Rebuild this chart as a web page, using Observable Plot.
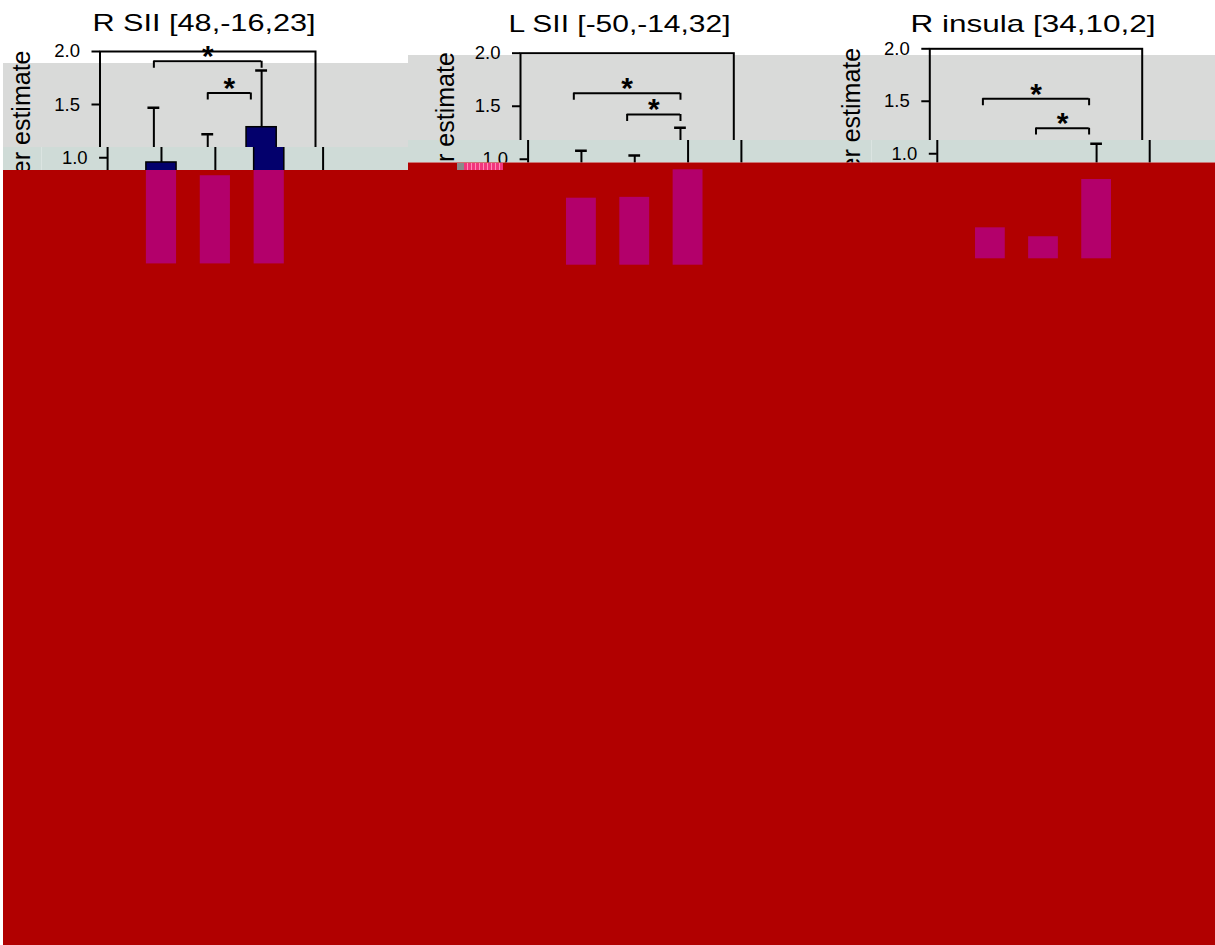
<!DOCTYPE html>
<html>
<head>
<meta charset="utf-8">
<script src="https://cdn.jsdelivr.net/npm/d3@7"></script>
<script src="https://cdn.jsdelivr.net/npm/@observablehq/plot@0.6"></script>
<style>
html, body { margin: 0; padding: 0; background: #fff; }
#chart { position: relative; width: 1215px; height: 945px; overflow: hidden; background: #fff; }
.layer { position: absolute; top: 0; height: 945px; overflow: hidden; }
.layer svg { position: absolute; left: 0; top: 0; max-width: none !important; background: none !important; overflow: visible; }
.layer svg [aria-label^="y-axis"] line, .layer svg [aria-label^="y-axis"] path { stroke-width: 2px; }
.glitch { position: absolute; }
</style>
</head>
<body>
<div id="chart"></div>
<script>
// ---------------- data ----------------
const regions = ["R SII [48,-16,23]", "L SII [-50,-14,32]", "R insula [34,10,2]"];
const conditions = ["1", "2", "3"];
const means = [
  [0.955, 0.83, 1.287],
  [0.632, 0.64, 0.90],
  [0.295, 0.21, 0.755]
];
const errors = [
  [0.515, 0.39, 0.533],
  [0.448, 0.395, 0.396],
  [0.26, 0.22, 0.34]
];
const bracketFrom = [[1, 2], [1, 2], [1, 2]];
const bracketTo = [[3, 2.8], [3, 3], [3, 3]];
const bracketLevel = [[1.908, 1.61], [1.623, 1.422], [1.524, 1.244]];
const yTicks = [0, 0.5, 1, 1.5, 2];
const yLabel = "Parameter estimate";
const marker = "*";

// ---------------- styles / layout ----------------
const W = 1215, H = 945;
const FONT = "'Liberation Sans', Arial, Helvetica, sans-serif";
const NAVY = "#03006c", RED = "#b10000", MAGENTA = "#b3006b", GRAY = "#d9dad9", GREEN = "#cfdbd7";
const layout = [
  {left: 0, width: 408, axis: 99.5, right: 315, top: 51, zero: 263.4, shift: 7.6, bands: [63, 147, 170], edge: 3, labelX: 29.5, titleX: 203.5, titleBase: 30, titleWidth: 223},
  {left: 408, width: 392, axis: 520, right: 733.3, top: 52.7, zero: 264.7, shift: 7.6, bands: [55, 140, 162.5], edge: 0, labelX: 453, titleX: 619, titleBase: 31.5, titleWidth: 222},
  {left: 800, width: 415, axis: 929.3, right: 1141.7, top: 48.3, zero: 258.3, shift: 7.5, bands: [55, 140, 162.5], edge: 0, labelX: 859.5, titleX: 1032.5, titleBase: 31.5, titleWidth: 245}
];
const half = 0.28, capHalf = 0.11, drop = 0.066;
const tickFormat = d3.format(".1f");

function renderPanel(p, mode) {
  const L = layout[p];
  const shift = mode === "gray" ? 0 : L.shift;
  const axisX = L.axis + shift - L.left;
  const rightX = L.right + shift - L.left;
  const rows = conditions.map((c, j) => ({condition: c, pos: j + 1, mean: means[p][j], upper: means[p][j] + errors[p][j]}));
  const brackets = bracketLevel[p].map((level, k) => ({from: bracketFrom[p][k], to: bracketTo[p][k], level}));
  const ends = brackets.flatMap(b => [{x: b.from, level: b.level}, {x: b.to, level: b.level}]);
  let marks;
  if (mode === "bars") {
    marks = [
      Plot.rect(rows, {x1: d => d.pos - half, x2: d => d.pos + half, y1: 0, y2: "mean", fill: MAGENTA})
    ];
  } else {
    const frameCenter = (L.axis + L.right) / 2 + shift;
    marks = [
      Plot.frame({stroke: "black", strokeWidth: 2}),
      Plot.rect(rows, {x1: d => d.pos - half, x2: d => d.pos + half, y1: 0, y2: "mean", fill: NAVY, stroke: "black", strokeWidth: 1.5}),
      Plot.ruleX(rows, {x: "pos", y1: "mean", y2: "upper", stroke: "black", strokeWidth: 2}),
      Plot.ruleY(rows, {y: "upper", x1: d => d.pos - capHalf, x2: d => d.pos + capHalf, stroke: "black", strokeWidth: 2.5}),
      Plot.ruleY(brackets, {y: "level", x1: "from", x2: "to", stroke: "black", strokeWidth: 2}),
      Plot.ruleX(ends, {x: "x", y1: "level", y2: d => d.level - drop, stroke: "black", strokeWidth: 2}),
      Plot.text(brackets, {x: d => (d.from + d.to) / 2, y: "level", text: () => marker, fontSize: 30, fontWeight: "bold", lineAnchor: "bottom", dy: 5}),
      Plot.text([regions[p]], {frameAnchor: "top", text: d => d, fontSize: 24, lineAnchor: "bottom", dx: L.titleX - frameCenter, dy: L.titleBase - L.top}),
      Plot.text([yLabel], {frameAnchor: "left", y: () => 2, text: d => d, rotate: -90, textAnchor: "end", lineAnchor: "bottom", fontSize: 25, dx: L.labelX - (L.axis + shift), dy: -1})
    ];
  }
  const svg = Plot.plot({
    width: L.width,
    height: H,
    marginLeft: axisX,
    marginRight: L.width - rightX,
    marginTop: L.top,
    marginBottom: H - L.zero,
    x: {domain: [0, 4], axis: null},
    y: {domain: [0, 2], ticks: yTicks, tickFormat, tickSize: 8, tickPadding: 12, label: null, axis: mode === "bars" ? null : "left"},
    style: {background: "none", fontFamily: FONT, fontSize: "18px", overflow: "visible", maxWidth: "none", color: "black"},
    marks
  });
  const tickLabels = new Set(yTicks.map(tickFormat));
  svg.querySelectorAll("text").forEach(t => {
    const s = t.textContent;
    if (s === regions[p]) {
      t.setAttribute("textLength", L.titleWidth);
      t.setAttribute("lengthAdjust", "spacingAndGlyphs");
    } else if (tickLabels.has(s)) {
      t.style.fontSize = "18.5px";
    }
  });
  return svg;
}

const root = document.getElementById("chart");
function addLayer(p, svg, clip, background) {
  const L = layout[p];
  const div = document.createElement("div");
  div.className = "layer";
  div.style.left = L.left + "px";
  div.style.width = L.width + "px";
  Object.assign(div.style, background);
  div.style.clipPath = clip;
  div.appendChild(svg);
  root.appendChild(div);
}

layout.forEach((L, p) => {
  const [g, gr, r] = L.bands;
  const labelCol = L.labelX - L.left + 12;
  // white band
  addLayer(p, renderPanel(p, "gray"), `inset(0px 0px ${H - g}px 0px)`, {background: "#ffffff"});
  // gray band (plus the label column of the light band)
  addLayer(p, renderPanel(p, "gray"),
    `polygon(${L.edge}px ${g}px, ${L.width}px ${g}px, ${L.width}px ${gr}px, ${labelCol}px ${gr}px, ${labelCol}px ${r}px, ${L.edge}px ${r}px)`,
    {background: `linear-gradient(to bottom, ${GRAY} 0px, ${GRAY} ${gr}px, ${GREEN} ${gr}px, ${GREEN} ${r}px)`});
  // light green band, shifted copy
  addLayer(p, renderPanel(p, "true"), `inset(${gr}px 0px ${H - r}px ${labelCol}px)`, {background: GREEN});
  // red band: only the bars survive
  addLayer(p, renderPanel(p, "bars"), `inset(${r}px 0px 0px ${L.edge}px)`, {background: RED});
});

// small corruption artefacts
[
  {left: 457, top: 163, width: 7, height: 7, background: "#8a8a8a"},
  {left: 464, top: 163, width: 39, height: 7, background: "repeating-linear-gradient(90deg, #f2357d 0px, #f2357d 3px, #ff8ab4 3px, #ff8ab4 4px)"}
].forEach(s => {
  const d = document.createElement("div");
  d.className = "glitch";
  Object.entries(s).forEach(([k, v]) => d.style[k] = typeof v === "number" ? v + "px" : v);
  root.appendChild(d);
});
</script>
</body>
</html>
